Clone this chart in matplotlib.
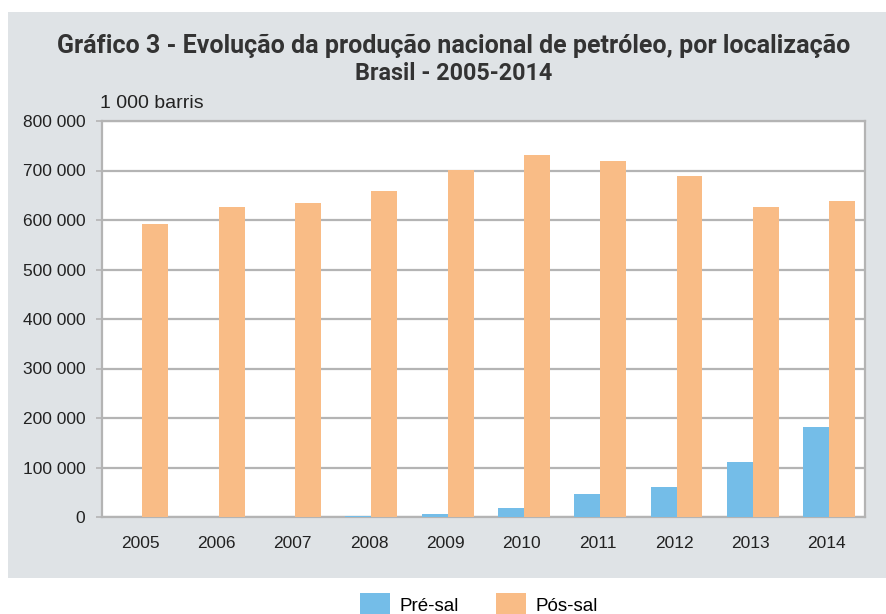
import numpy as np
import matplotlib
matplotlib.use('Agg')
from matplotlib import pyplot as plt
from matplotlib.patches import Rectangle, Patch

# dados (1 000 barris)
anos = ['2005', '2006', '2007', '2008', '2009', '2010', '2011', '2012', '2013', '2014']
pre_sal = [0, 0, 0, 2000, 6500, 18000, 46000, 61000, 111000, 182000]
pos_sal = [592000, 626000, 634000, 659000, 701000, 731000, 719000, 689000, 626000, 638000]
yticks = [0, 100000, 200000, 300000, 400000, 500000, 600000, 700000, 800000]
ytick_labels = ['0', '100 000', '200 000', '300 000', '400 000', '500 000', '600 000', '700 000', '800 000']

c_pre = '#74bde8'
c_pos = '#f9bc86'
bg = '#dfe3e6'
grid_c = '#b4b4b4'
txt = '#222222'

W, H = 886, 614
fig = plt.figure(figsize=(W / 100, H / 100), dpi=100)
fig.patch.set_facecolor('white')

# caixa cinza
fig.patches.append(Rectangle((8 / W, 1 - 578 / H), 1 - 8 / W, (578 - 12) / H,
                             transform=fig.transFigure, facecolor=bg, edgecolor='none', zorder=-10))

ax = fig.add_axes([102 / W, 1 - 517 / H, (865 - 102) / W, (517 - 121) / H])
ax.set_facecolor('white')

x = np.arange(len(anos))
bw = 0.34
off = 0.03
ax.bar(x - bw / 2 + off, pre_sal, width=bw, color=c_pre, zorder=3)
ax.bar(x + bw / 2 + off, pos_sal, width=bw, color=c_pos, zorder=3)

ax.set_xlim(-0.5, len(anos) - 0.5)
ax.set_ylim(0, 800000)
ax.set_yticks(yticks)
ax.set_yticklabels(ytick_labels, family='Liberation Sans', fontsize=12.5, color=txt)
ax.set_xticks(x)
ax.set_xticklabels(anos, family='Liberation Sans', fontsize=12.5, color=txt)
ax.tick_params(axis='x', length=0, pad=14)
ax.tick_params(axis='y', length=4, width=1.2, color=grid_c, pad=8)
ax.yaxis.grid(True, color=grid_c, linewidth=1.6, zorder=1)
ax.set_axisbelow(True)
for s in ax.spines.values():
    s.set_color(grid_c)
    s.set_linewidth(1.6)

fig.text(454 / W, 1 - 46 / H, 'Gráfico 3 - Evolução da produção nacional de petróleo, por localização',
         ha='center', va='center', family='Roboto', fontweight='bold', fontsize=18, color='#333333')
fig.text(454 / W, 1 - 73 / H, 'Brasil - 2005-2014',
         ha='center', va='center', family='Roboto', fontweight='bold', fontsize=16.8, color='#333333')
fig.text(100 / W, 1 - 104 / H, '1 000 barris', ha='left', va='center',
         family='Liberation Sans', fontsize=14, color=txt)

handles = [Patch(facecolor=c_pre, edgecolor='none', label='Pré-sal'),
           Patch(facecolor=c_pos, edgecolor='none', label='Pós-sal')]
fig.legend(handles=handles, loc='center', bbox_to_anchor=(479 / W, 1 - 605 / H), ncol=2,
           frameon=False, prop={'family': 'Liberation Sans', 'size': 13.5},
           handlelength=1.6, handleheight=1.6, columnspacing=1.95, handletextpad=0.5)

fig.savefig('out.png', dpi=100, facecolor='white')
